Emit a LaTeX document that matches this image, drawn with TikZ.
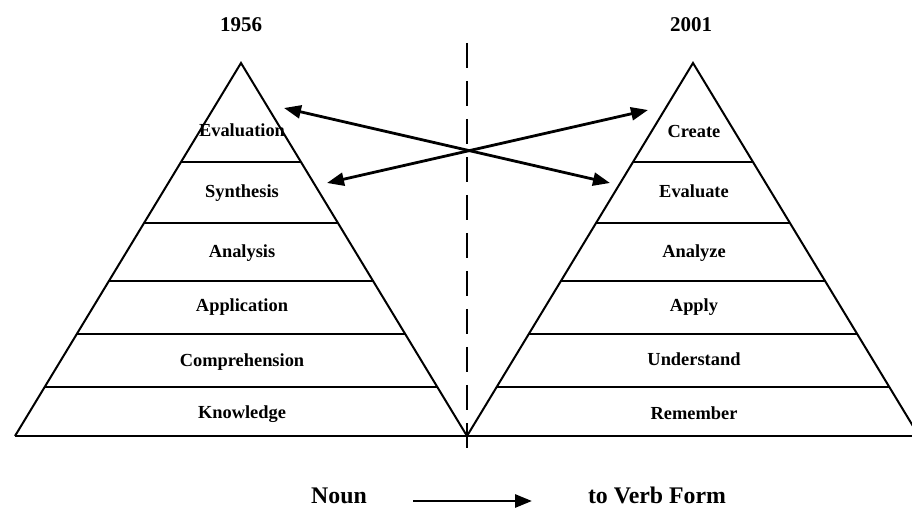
\documentclass[tikz,border=0pt]{standalone}
\usepackage{fontspec}
\setmainfont{Liberation Serif}
\usetikzlibrary{arrows.meta}
\newcommand\lvltxt[1]{\fontsize{9.2}{11}\selectfont\bfseries #1}
\newcommand\yrtxt[1]{\fontsize{10.5}{12}\selectfont\bfseries #1}
\newcommand\formtxt[1]{\fontsize{11.9}{14}\selectfont\bfseries #1}

\begin{document}
\begin{tikzpicture}[x=0.5pt,y=-0.5pt,line width=1pt,>={Triangle[length=8.5pt,width=6.5pt]}]
    \tikzstyle{level}=[anchor=base,text=black,inner sep=0pt]
    \tikzstyle{year}=[anchor=base,text=black,inner sep=0pt]
    \tikzstyle{link}=[<->,line width=1.4pt]

    \useasboundingbox (0,0) rectangle (912,508);
    \clip (0,0) rectangle (912,508);

    % the two pyramids, sharing one base line
    \draw (15,436) -- (241,63) -- (467,436);
    \draw (467,436) -- (693,63) -- (919,436);
    \draw (15,436) -- (919,436);
    \foreach \y in {162,223,281,334,387} {
      \draw ({241-0.6059*(\y-63)},\y) -- ({241+0.6059*(\y-63)},\y);
      \draw ({693-0.6059*(\y-63)},\y) -- ({693+0.6059*(\y-63)},\y);
    }

    % divider
    \draw[dash pattern=on 12.5pt off 6.5pt] (467,43) -- (467,454);

    \node[year]  (old)  at (241,32)  {\yrtxt{1956}};
    \node[year]  (new)  at (691,32)  {\yrtxt{2001}};

    \node[level] (eval) at (242,137) {\lvltxt{Evaluation}};
    \node[level] (syn)  at (242,198) {\lvltxt{Synthesis}};
    \node[level] (ana)  at (242,257) {\lvltxt{Analysis}};
    \node[level] (app)  at (242,312) {\lvltxt{Application}};
    \node[level] (comp) at (242,366) {\lvltxt{Comprehension}};
    \node[level] (know) at (242,418) {\lvltxt{Knowledge}};

    \node[level] (cre)  at (694,138) {\lvltxt{Create}};
    \node[level] (evl)  at (694,198) {\lvltxt{Evaluate}};
    \node[level] (anz)  at (694,257) {\lvltxt{Analyze}};
    \node[level] (apl)  at (694,312) {\lvltxt{Apply}};
    \node[level] (und)  at (694,365) {\lvltxt{Understand}};
    \node[level] (rem)  at (694,419) {\lvltxt{Remember}};

    \coordinate (evalR) at (284,108);
    \coordinate (synR)  at (327,183);
    \coordinate (creL)  at (648,110);
    \coordinate (evlL)  at (610,183);

    \path[link]
     (evalR) edge (evlL)
     (synR)  edge (creL);

    \node[year]                  (noun) at (339,503) {\formtxt{Noun}};
    \node[year,anchor=base west] (verb) at (587,503) {\formtxt{to Verb Form}};
    \coordinate (nv1) at (413,501);
    \coordinate (nv2) at (532,501);
    \draw[->,line width=1.4pt] (nv1) -- (nv2);
  \end{tikzpicture}
\end{document}
